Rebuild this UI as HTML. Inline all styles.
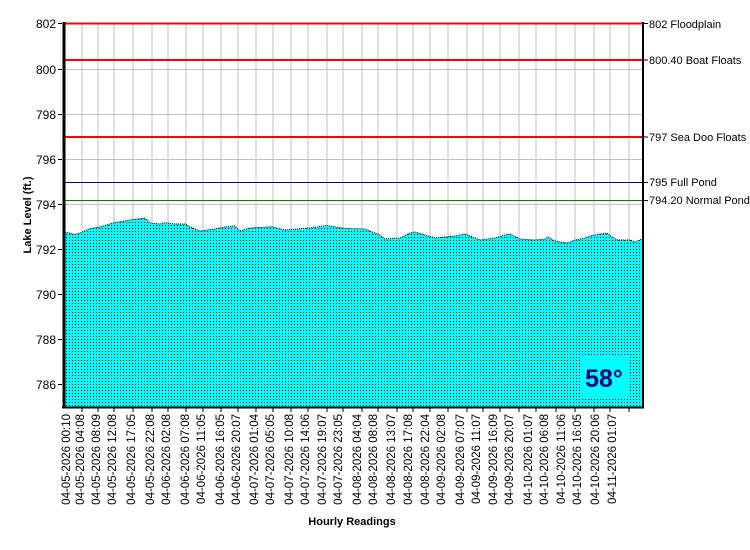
<!DOCTYPE html>
<html><head><meta charset="utf-8"><style>
body{margin:0;background:#fff;}
svg{display:block;font-family:"Liberation Sans",Arial,sans-serif;}
</style></head><body>
<svg width="750" height="550" viewBox="0 0 750 550" xmlns="http://www.w3.org/2000/svg">
<defs>
<pattern id="dots" width="3" height="3" patternUnits="userSpaceOnUse">
<rect width="3" height="3" fill="#00ffff"/><rect x="0" y="0" width="1" height="1" fill="#000" shape-rendering="crispEdges"/>
</pattern>
</defs>
<rect x="64" y="23" width="579" height="384" fill="#fff"/>
<g stroke="#c0c0c0" stroke-width="1">
<line x1="64" x2="643" y1="69.5" y2="69.5"/><line x1="64" x2="643" y1="114.5" y2="114.5"/>
<line x1="64" x2="643" y1="159.5" y2="159.5"/><line x1="64" x2="643" y1="204.5" y2="204.5"/>
<line x1="64" x2="643" y1="249.5" y2="249.5"/><line x1="64" x2="643" y1="294.5" y2="294.5"/>
<line x1="64" x2="643" y1="339.5" y2="339.5"/><line x1="64" x2="643" y1="384.5" y2="384.5"/>
<path d="M82 23V407M98 23V407M114 23V407M133 23V407M152 23V407M168 23V407M186 23V407M203 23V407M221 23V407M238 23V407M256 23V407M273 23V407M291 23V407M308 23V407M327 23V407M343 23V407M362 23V407M378 23V407M397 23V407M413 23V407M430 23V407M448 23V407M467 23V407M483 23V407M500 23V407M519 23V407M536 23V407M556 23V407M575 23V407M594 23V407M610 23V407M629 23V407"/>
</g>
<polygon fill="url(#dots)" points="65,407 65,232 75,234.5 80,233 90,228.6 100,227 113,223 130,220 145,218 150,223 160,224 165,222.7 175,224 185,224 190,227 200,231 215,229 225,227 235,226 240,231 250,228 272,226.7 285,230 310,228 327,225.5 345,228.5 365,229 380,235 385,239 400,238 410,233 415,232 425,235 435,238 455,236 465,234 475,238 480,240 495,238 505,235 510,234 520,239 535,240 545,239 548,237 555,241 560,242 568,243 575,240 585,238 590,236 600,234 607,233 612,237 618,240 630,240 635,242 642,239 642,407"/>
<polyline fill="none" stroke="#000" stroke-width="1" stroke-dasharray="1 1" points="65,232 75,234.5 80,233 90,228.6 100,227 113,223 130,220 145,218 150,223 160,224 165,222.7 175,224 185,224 190,227 200,231 215,229 225,227 235,226 240,231 250,228 272,226.7 285,230 310,228 327,225.5 345,228.5 365,229 380,235 385,239 400,238 410,233 415,232 425,235 435,238 455,236 465,234 475,238 480,240 495,238 505,235 510,234 520,239 535,240 545,239 548,237 555,241 560,242 568,243 575,240 585,238 590,236 600,234 607,233 612,237 618,240 630,240 635,242 642,239"/>
<rect x="580" y="355" width="48" height="44" fill="#00ffff"/>
<text x="604" y="387" text-anchor="middle" font-size="25" font-weight="bold" fill="#000080">58°</text>
<line x1="64" x2="643" y1="23.5" y2="23.5" stroke="#ff0000" stroke-width="2"/>
<line x1="64" x2="643" y1="60" y2="60" stroke="#ff0000" stroke-width="2"/>
<line x1="64" x2="643" y1="137" y2="137" stroke="#ff0000" stroke-width="2"/>
<line x1="64" x2="643" y1="182.5" y2="182.5" stroke="#000080" stroke-width="1"/>
<line x1="64" x2="643" y1="200.5" y2="200.5" stroke="#008000" stroke-width="1"/>
<line x1="64" x2="64" y1="22" y2="408" stroke="#000" stroke-width="3"/>
<line x1="643" x2="643" y1="22" y2="408" stroke="#000" stroke-width="2"/>
<line x1="62" x2="644" y1="407.5" y2="407.5" stroke="#000" stroke-width="2"/>
<g stroke="#000" stroke-width="1">
<path d="M58 23.5H62M58 69.5H62M58 114.5H62M58 159.5H62M58 204.5H62M58 249.5H62M58 294.5H62M58 339.5H62M58 384.5H62"/>
<path d="M644 23.5H648M644 60H648M644 137H648M644 182.5H648M644 200.5H648"/>
<path d="M82 408V412M98 408V412M114 408V412M133 408V412M152 408V412M168 408V412M186 408V412M203 408V412M221 408V412M238 408V412M256 408V412M273 408V412M291 408V412M308 408V412M327 408V412M343 408V412M362 408V412M378 408V412M397 408V412M413 408V412M430 408V412M448 408V412M467 408V412M483 408V412M500 408V412M519 408V412M536 408V412M556 408V412M575 408V412M594 408V412M610 408V412M629 408V412"/>
</g>
<g font-size="12" text-anchor="end" fill="#000">
<text x="56" y="28">802</text><text x="56" y="74">800</text><text x="56" y="119">798</text>
<text x="56" y="164">796</text><text x="56" y="209">794</text><text x="56" y="254">792</text>
<text x="56" y="299">790</text><text x="56" y="344">788</text><text x="56" y="389">786</text>
</g>
<g font-size="11" fill="#000">
<text x="649" y="28">802 Floodplain</text>
<text x="649" y="64">800.40 Boat Floats</text>
<text x="649" y="141">797 Sea Doo Floats</text>
<text x="649" y="186">795 Full Pond</text>
<text x="649" y="204">794.20 Normal Pond</text>
</g>
<text transform="translate(31,215) rotate(-90)" text-anchor="middle" font-size="11" font-weight="bold">Lake Level (ft.)</text>
<text x="352" y="525" text-anchor="middle" font-size="11" font-weight="bold">Hourly Readings</text>
<g font-size="11.5" text-anchor="end" fill="#000">
<text transform="translate(70,414) rotate(-90)">04-05-2026 00:10</text>
<text transform="translate(84,414) rotate(-90)">04-05-2026 04:08</text>
<text transform="translate(100,414) rotate(-90)">04-05-2026 08:09</text>
<text transform="translate(116,414) rotate(-90)">04-05-2026 12:08</text>
<text transform="translate(135,414) rotate(-90)">04-05-2026 17:05</text>
<text transform="translate(154,414) rotate(-90)">04-05-2026 22:08</text>
<text transform="translate(170,414) rotate(-90)">04-06-2026 02:08</text>
<text transform="translate(189,414) rotate(-90)">04-06-2026 07:08</text>
<text transform="translate(205,414) rotate(-90)">04-06-2026 11:05</text>
<text transform="translate(224,414) rotate(-90)">04-06-2026 16:05</text>
<text transform="translate(240,414) rotate(-90)">04-06-2026 20:07</text>
<text transform="translate(258,414) rotate(-90)">04-07-2026 01:04</text>
<text transform="translate(274,414) rotate(-90)">04-07-2026 05:05</text>
<text transform="translate(293,414) rotate(-90)">04-07-2026 10:08</text>
<text transform="translate(309,414) rotate(-90)">04-07-2026 14:06</text>
<text transform="translate(326,414) rotate(-90)">04-07-2026 19:07</text>
<text transform="translate(342,414) rotate(-90)">04-07-2026 23:05</text>
<text transform="translate(361,414) rotate(-90)">04-08-2026 04:04</text>
<text transform="translate(377,414) rotate(-90)">04-08-2026 08:08</text>
<text transform="translate(395,414) rotate(-90)">04-08-2026 13:07</text>
<text transform="translate(412,414) rotate(-90)">04-08-2026 17:08</text>
<text transform="translate(429,414) rotate(-90)">04-08-2026 22:04</text>
<text transform="translate(445,414) rotate(-90)">04-09-2026 02:08</text>
<text transform="translate(464,414) rotate(-90)">04-09-2026 07:07</text>
<text transform="translate(480,414) rotate(-90)">04-09-2026 11:07</text>
<text transform="translate(497,414) rotate(-90)">04-09-2026 16:09</text>
<text transform="translate(513,414) rotate(-90)">04-09-2026 20:07</text>
<text transform="translate(532,414) rotate(-90)">04-10-2026 01:07</text>
<text transform="translate(548,414) rotate(-90)">04-10-2026 06:08</text>
<text transform="translate(565,414) rotate(-90)">04-10-2026 11:06</text>
<text transform="translate(581,414) rotate(-90)">04-10-2026 16:05</text>
<text transform="translate(599,414) rotate(-90)">04-10-2026 20:06</text>
<text transform="translate(616,414) rotate(-90)">04-11-2026 01:07</text>
</g>
</svg>
</body></html>
